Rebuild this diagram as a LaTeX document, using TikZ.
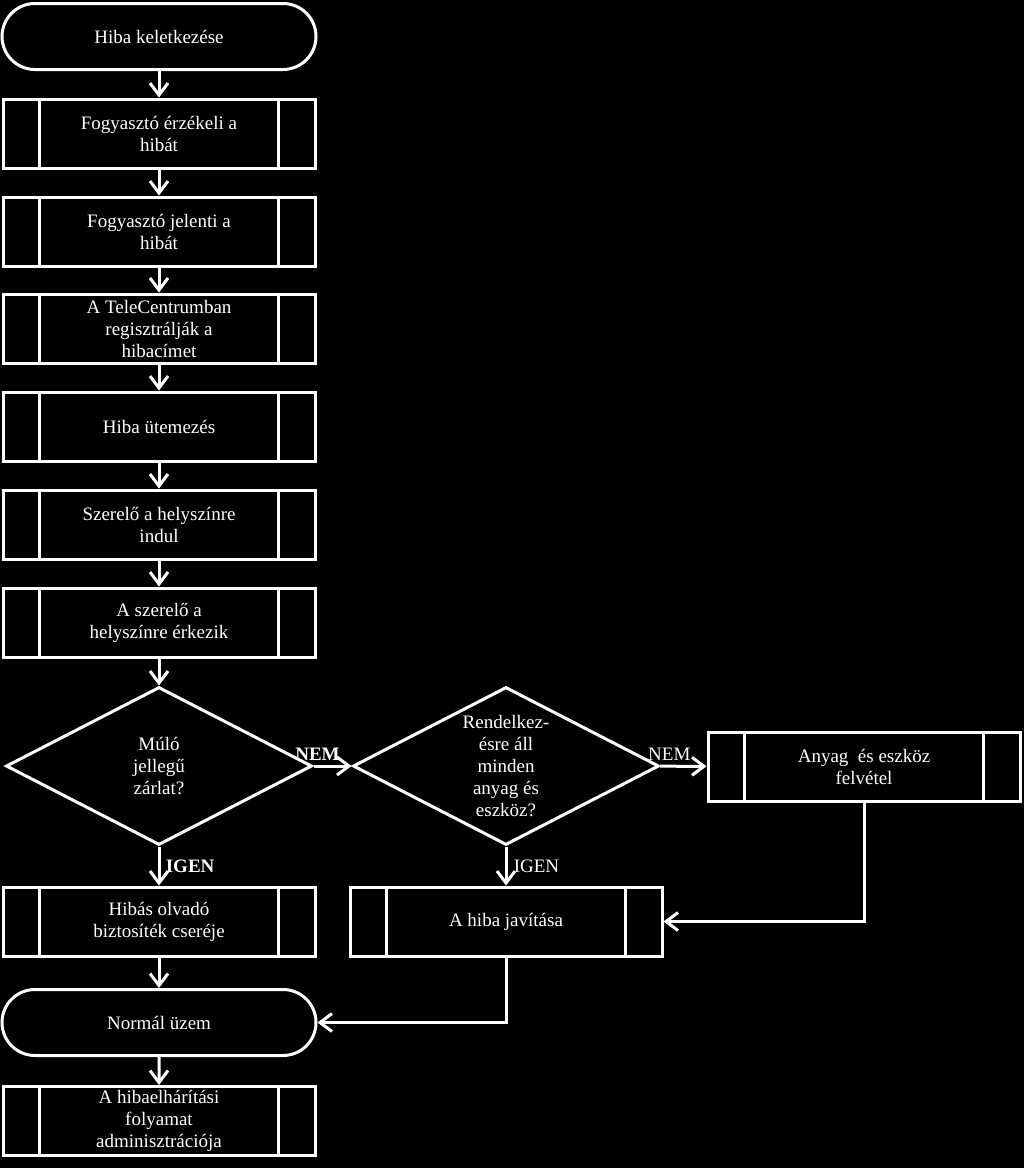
\documentclass[tikz,border=0pt]{standalone}
\usepackage{fontspec}
\setmainfont{Liberation Serif}
\usetikzlibrary{arrows.meta,shapes.geometric,shapes.misc,calc}
\begin{document}
\begin{tikzpicture}[x=1pt,y=-1pt,
  every node/.style={text=white,font=\fontsize{19}{22}\selectfont,align=center},
  line/.style={draw=white,line width=3pt},
  proc/.style={line,rectangle,minimum width=312,minimum height=69,inner sep=0},
  term/.style={line,rounded rectangle,minimum width=314,minimum height=66,inner sep=0},
  dec/.style={line,diamond,shape aspect=1.94,minimum width=306,minimum height=158,inner sep=0},
  conn/.style={draw=white,line width=3pt,-{Straight Barb[length=12pt,width=18pt,line width=3pt]}},
  boldlbl/.style={font=\bfseries\fontsize{19}{22}\selectfont}
]
\fill[black] (0,0) rectangle (1024,1168);
\useasboundingbox (0,0) rectangle (1024,1168);

\node[term] (t1) at (159,36.5) {Hiba keletkezése};
\node[proc] (b1) at (159,133.5) {Fogyasztó érzékeli a\\hibát};
\node[proc] (b2) at (159,231.5) {Fogyasztó jelenti a\\hibát};
\node[proc] (b3) at (159,328.5) {A TeleCentrumban\\regisztrálják a\\hibacímet};
\node[proc] (b4) at (159,426.5) {Hiba ütemezés};
\node[proc] (b5) at (159,524.5) {Szerelő a helyszínre\\indul};
\node[proc] (b6) at (159,622.5) {A szerelő a\\helyszínre érkezik};
\node[dec] (d1) at (159,766) {Múló\\jellegű\\zárlat?};
\node[dec] (d2) at (506,766) {Rendelkez-\\ésre áll\\minden\\anyag és\\eszköz?};
\node[proc] (b7) at (864,766.5) {Anyag\ \ és eszköz\\felvétel};
\node[proc] (b8) at (159,921.5) {Hibás olvadó\\biztosíték cseréje};
\node[proc] (b9) at (506,921.5) {A hiba javítása};
\node[term] (t2) at (159,1022.5) {Normál üzem};
\node[proc] (b10) at (159,1121) {A hibaelhárítási\\folyamat\\adminisztrációja};

\foreach \n in {b1,b2,b3,b4,b5,b6,b7,b8,b9,b10}{
  \draw[line] ([xshift=38]\n.north west) -- ([xshift=38]\n.south west);
  \draw[line] ([xshift=-38]\n.north east) -- ([xshift=-38]\n.south east);
}

\draw[conn] (t1) -- (b1);
\draw[conn] (b1) -- (b2);
\draw[conn] (b2) -- (b3);
\draw[conn] (b3) -- (b4);
\draw[conn] (b4) -- (b5);
\draw[conn] (b5) -- (b6);
\draw[conn] (b6) -- (d1);
\draw[conn] (d1) -- node[above=1pt,xshift=-15,boldlbl] (nem1) {NEM} (d2);
\draw[conn] (d2) -- node[above=1pt,xshift=-14] (nem2) {NEM} (b7);
\draw[conn] (d1) -- node[right=2pt,boldlbl] (igen1) {IGEN} (b8);
\draw[conn] (d2) -- node[right=3pt] (igen2) {IGEN} (b9);
\draw[conn] (b7.south) |- (b9.east);
\draw[conn] (b8) -- (t2);
\draw[conn] (b9.south) |- (t2.east);
\draw[conn] (t2) -- (b10);
\end{tikzpicture}
\end{document}
